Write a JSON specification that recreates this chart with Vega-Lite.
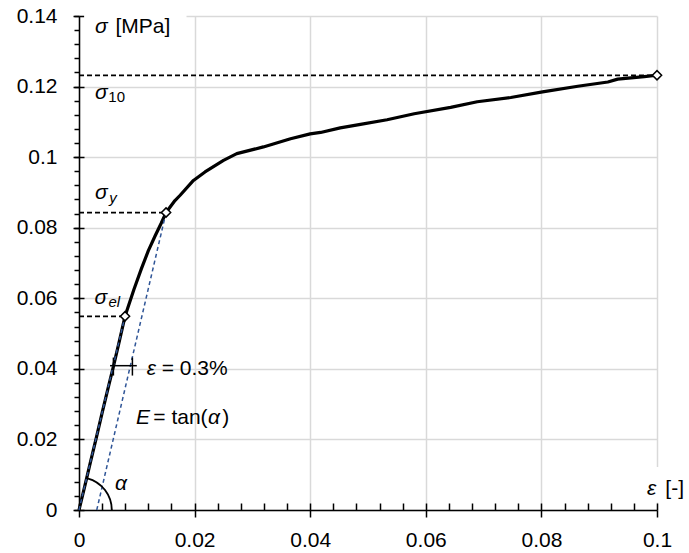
{
  "$schema": "https://vega.github.io/schema/vega-lite/v6.json",
  "width": 578,
  "height": 494,
  "autosize": {"type": "none"},
  "padding": {"left": 79, "top": 16, "right": 32, "bottom": 43},
  "background": "white",
  "config": {"view": {"stroke": null}, "font": "Liberation Sans"},
  "resolve": {"axis": {"x": "independent", "y": "independent"}},
  "datasets": {
    "curve": [
      {"eps": 0, "sigma": 0},
      {"eps": 0.001, "sigma": 0.0068},
      {"eps": 0.002, "sigma": 0.0137},
      {"eps": 0.003, "sigma": 0.0205},
      {"eps": 0.004, "sigma": 0.0275},
      {"eps": 0.005, "sigma": 0.0343},
      {"eps": 0.006, "sigma": 0.041},
      {"eps": 0.007, "sigma": 0.048},
      {"eps": 0.00796, "sigma": 0.0549},
      {"eps": 0.0095, "sigma": 0.0625},
      {"eps": 0.0108, "sigma": 0.0684},
      {"eps": 0.012, "sigma": 0.0735},
      {"eps": 0.0132, "sigma": 0.0778},
      {"eps": 0.0142, "sigma": 0.0812},
      {"eps": 0.01506, "sigma": 0.0843},
      {"eps": 0.0166, "sigma": 0.0877},
      {"eps": 0.0175, "sigma": 0.0892},
      {"eps": 0.0198, "sigma": 0.0934},
      {"eps": 0.0218, "sigma": 0.0958},
      {"eps": 0.025, "sigma": 0.0991},
      {"eps": 0.0273, "sigma": 0.101},
      {"eps": 0.0319, "sigma": 0.1029},
      {"eps": 0.0366, "sigma": 0.1052},
      {"eps": 0.04, "sigma": 0.1066},
      {"eps": 0.0418, "sigma": 0.1070},
      {"eps": 0.0452, "sigma": 0.1083},
      {"eps": 0.0487, "sigma": 0.1093},
      {"eps": 0.0533, "sigma": 0.1106},
      {"eps": 0.058, "sigma": 0.1123},
      {"eps": 0.0643, "sigma": 0.1141},
      {"eps": 0.0689, "sigma": 0.1157},
      {"eps": 0.0747, "sigma": 0.1169},
      {"eps": 0.0802, "sigma": 0.1185},
      {"eps": 0.0863, "sigma": 0.1201},
      {"eps": 0.0915, "sigma": 0.1213},
      {"eps": 0.0932, "sigma": 0.1221},
      {"eps": 0.0978, "sigma": 0.1228},
      {"eps": 0.1, "sigma": 0.1232}
    ],
    "markers": [
      {"eps": 0.00796, "sigma": 0.0549},
      {"eps": 0.01506, "sigma": 0.0843},
      {"eps": 0.1, "sigma": 0.1232}
    ],
    "hdash": [
      {"x": 0, "x2": 0.1, "y": 0.1232},
      {"x": 0, "x2": 0.01506, "y": 0.0843},
      {"x": 0, "x2": 0.00796, "y": 0.0549}
    ],
    "blue": [
      {"x": 0, "y": 0, "x2": 0.00796, "y2": 0.0549},
      {"x": 0.00307, "y": 0, "x2": 0.01506, "y2": 0.0843}
    ],
    "epsmark": [
      {"x": 0.00537, "y": 0.0409, "x2": 0.0100, "y2": 0.0409},
      {"x": 0.00595, "y": 0.0381, "x2": 0.00595, "y2": 0.0432},
      {"x": 0.00924, "y": 0.0381, "x2": 0.00924, "y2": 0.0432}
    ],
    "bg": [
      {"x": 0.0009, "x2": 0.0186, "y": 0.132, "y2": 0.1405},
      {"x": 0.0975, "x2": 0.104, "y": 0.0021, "y2": 0.0122}
    ],
    "origin": [{"x": 0, "y": 0}],
    "italicBig": [
      {"x": 0.00277, "y": 0.1351, "t": "σ"},
      {"x": 0.00277, "y": 0.1164, "t": "σ"},
      {"x": 0.00277, "y": 0.0880, "t": "σ"},
      {"x": 0.0027, "y": 0.0585, "t": "σ"},
      {"x": 0.01172, "y": 0.0384, "t": "ε"},
      {"x": 0.00987, "y": 0.02445, "t": "E"},
      {"x": 0.0223, "y": 0.02445, "t": "α"},
      {"x": 0.00623, "y": 0.00553, "t": "α"},
      {"x": 0.09827, "y": 0.00411, "t": "ε"}
    ],
    "normalBig": [
      {"x": 0.0063, "y": 0.1351, "t": "[MPa]"},
      {"x": 0.01431, "y": 0.0384, "t": "= 0.3%"},
      {"x": 0.01286, "y": 0.02445, "t": "= tan("},
      {"x": 0.0248, "y": 0.02445, "t": ")"},
      {"x": 0.10144, "y": 0.00411, "t": "[-]"}
    ],
    "subNormal": [
      {"x": 0.00508, "y": 0.1157, "t": "10"}
    ],
    "subItalic": [
      {"x": 0.00524, "y": 0.0871, "t": "y"},
      {"x": 0.0051, "y": 0.0574, "t": "el"}
    ]
  },
  "layer": [
    {
      "data": {"name": "bg"},
      "mark": {"type": "rect", "fill": "white", "stroke": null},
      "encoding": {
        "x": {"field": "x", "type": "quantitative", "scale": {"domain": [0, 0.1], "nice": false, "zero": false},
          "axis": {"orient": "bottom", "title": null, "values": [0,0.004,0.008,0.012,0.016,0.02,0.024,0.028,0.032,0.036,0.04,0.044,0.048,0.052,0.056,0.06,0.064,0.068,0.072,0.076,0.08,0.084,0.088,0.092,0.096,0.1],
            "labels": false, "domain": false, "grid": false, "ticks": true, "tickSize": -7, "tickColor": "black", "tickWidth": 1.5}},
        "x2": {"field": "x2"},
        "y": {"field": "y", "type": "quantitative", "scale": {"domain": [0, 0.14], "nice": false, "zero": false},
          "axis": {"orient": "left", "title": null, "values": [0,0.004,0.008,0.012,0.016,0.02,0.024,0.028,0.032,0.036,0.04,0.044,0.048,0.052,0.056,0.06,0.064,0.068,0.072,0.076,0.08,0.084,0.088,0.092,0.096,0.1,0.104,0.108,0.112,0.116,0.12,0.124,0.128,0.132,0.136,0.14],
            "labels": false, "domain": false, "grid": false, "ticks": true, "tickSize": 5, "tickColor": "black", "tickWidth": 1.5}},
        "y2": {"field": "y2"}
      }
    },
    {
      "data": {"name": "curve"},
      "mark": {"type": "line", "color": "black", "strokeWidth": 3.2, "strokeJoin": "round"},
      "encoding": {
        "x": {"field": "eps", "type": "quantitative", "scale": {"domain": [0, 0.1], "nice": false, "zero": false},
          "axis": {"orient": "bottom", "title": null, "values": [0, 0.02, 0.04, 0.06, 0.08, 0.1], "format": "~g",
            "grid": true, "gridColor": "#d9d9d9", "gridWidth": 1.5, "domainColor": "black", "domainWidth": 1.5,
            "tickColor": "black", "tickWidth": 1.5, "tickSize": 7, "labelFont": "Liberation Sans", "labelFontSize": 21,
            "labelColor": "black", "labelPadding": 12, "labelFlush": false, "labelOverlap": false}},
        "y": {"field": "sigma", "type": "quantitative", "scale": {"domain": [0, 0.14], "nice": false, "zero": false},
          "axis": {"orient": "left", "title": null, "values": [0, 0.02, 0.04, 0.06, 0.08, 0.1, 0.12, 0.14], "format": "~g",
            "grid": true, "gridColor": "#d9d9d9", "gridWidth": 1.5, "domainColor": "black", "domainWidth": 1.5,
            "tickColor": "black", "tickWidth": 1.5, "tickSize": 6, "labelFont": "Liberation Sans", "labelFontSize": 21,
            "labelColor": "black", "labelPadding": 16, "labelFlush": false, "labelOverlap": false}}
      }
    },
    {
      "data": {"name": "hdash"},
      "mark": {"type": "rule", "color": "black", "strokeWidth": 1.7, "strokeDash": [5, 3]},
      "encoding": {
        "x": {"field": "x", "type": "quantitative", "axis": null},
        "x2": {"field": "x2"},
        "y": {"field": "y", "type": "quantitative",
          "axis": {"orient": "left", "title": null, "values": [0, 0.02, 0.04, 0.06, 0.08, 0.1, 0.12, 0.14],
            "labels": false, "domain": false, "grid": false, "ticks": true, "tickSize": -5, "tickColor": "black", "tickWidth": 1.5}}
      }
    },
    {
      "data": {"name": "blue"},
      "mark": {"type": "rule", "color": "#2f5597", "strokeWidth": 1.5, "strokeDash": [4, 3]},
      "encoding": {
        "x": {"field": "x", "type": "quantitative", "axis": null},
        "x2": {"field": "x2"},
        "y": {"field": "y", "type": "quantitative", "axis": null},
        "y2": {"field": "y2"}
      }
    },
    {
      "data": {"name": "epsmark"},
      "mark": {"type": "rule", "color": "black", "strokeWidth": 1.5},
      "encoding": {
        "x": {"field": "x", "type": "quantitative", "axis": null},
        "x2": {"field": "x2"},
        "y": {"field": "y", "type": "quantitative", "axis": null},
        "y2": {"field": "y2"}
      }
    },
    {
      "data": {"name": "origin"},
      "mark": {"type": "arc", "filled": false, "color": "black", "strokeWidth": 1.5, "radius": 33, "radius2": 32.6, "theta": 0.26, "theta2": 1.5708},
      "encoding": {
        "x": {"field": "x", "type": "quantitative", "axis": null},
        "y": {"field": "y", "type": "quantitative", "axis": null}
      }
    },
    {
      "data": {"name": "markers"},
      "mark": {"type": "point", "shape": "diamond", "filled": true, "fill": "white", "stroke": "black", "strokeWidth": 1.5, "size": 85, "opacity": 1},
      "encoding": {
        "x": {"field": "eps", "type": "quantitative", "axis": null},
        "y": {"field": "sigma", "type": "quantitative", "axis": null}
      }
    },
    {
      "data": {"name": "italicBig"},
      "mark": {"type": "text", "align": "left", "baseline": "alphabetic", "font": "Liberation Sans", "fontSize": 21, "fontStyle": "italic", "color": "black"},
      "encoding": {
        "x": {"field": "x", "type": "quantitative", "axis": null},
        "y": {"field": "y", "type": "quantitative", "axis": null},
        "text": {"field": "t"}
      }
    },
    {
      "data": {"name": "normalBig"},
      "mark": {"type": "text", "align": "left", "baseline": "alphabetic", "font": "Liberation Sans", "fontSize": 21, "color": "black"},
      "encoding": {
        "x": {"field": "x", "type": "quantitative", "axis": null},
        "y": {"field": "y", "type": "quantitative", "axis": null},
        "text": {"field": "t"}
      }
    },
    {
      "data": {"name": "subNormal"},
      "mark": {"type": "text", "align": "left", "baseline": "alphabetic", "font": "Liberation Sans", "fontSize": 15, "color": "black"},
      "encoding": {
        "x": {"field": "x", "type": "quantitative", "axis": null},
        "y": {"field": "y", "type": "quantitative", "axis": null},
        "text": {"field": "t"}
      }
    },
    {
      "data": {"name": "subItalic"},
      "mark": {"type": "text", "align": "left", "baseline": "alphabetic", "font": "Liberation Sans", "fontSize": 15, "fontStyle": "italic", "color": "black"},
      "encoding": {
        "x": {"field": "x", "type": "quantitative", "axis": null},
        "y": {"field": "y", "type": "quantitative", "axis": null},
        "text": {"field": "t"}
      }
    }
  ]
}
